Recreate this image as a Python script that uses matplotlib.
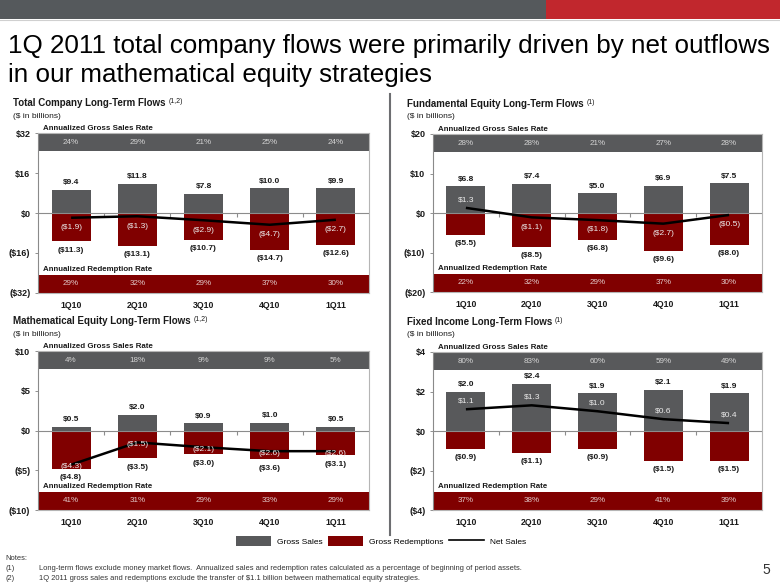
import numpy as np
import matplotlib
matplotlib.use("Agg")
import matplotlib.pyplot as plt
from matplotlib import font_manager
from matplotlib.patches import Rectangle, Patch
from matplotlib.lines import Line2D

# -------------------------------------------------------------------
# Data ($ in billions, rates in %)
# -------------------------------------------------------------------
quarters = ["1Q10", "2Q10", "3Q10", "4Q10", "1Q11"]

total_gross = [9.4, 11.8, 7.8, 10.0, 9.9]
total_redemptions = [-11.3, -13.1, -10.7, -14.7, -12.6]
total_net = [-1.9, -1.3, -2.9, -4.7, -2.7]
total_sales_rate = [24, 29, 21, 25, 24]
total_redemption_rate = [29, 32, 29, 37, 30]

fund_gross = [6.8, 7.4, 5.0, 6.9, 7.5]
fund_redemptions = [-5.5, -8.5, -6.8, -9.6, -8.0]
fund_net = [1.3, -1.1, -1.8, -2.7, -0.5]
fund_sales_rate = [28, 28, 21, 27, 28]
fund_redemption_rate = [22, 32, 29, 37, 30]

math_gross = [0.5, 2.0, 0.9, 1.0, 0.5]
math_redemptions = [-4.8, -3.5, -3.0, -3.6, -3.1]
math_net = [-4.3, -1.5, -2.1, -2.6, -2.6]
math_sales_rate = [4, 18, 9, 9, 5]
math_redemption_rate = [41, 31, 29, 33, 29]

fixed_gross = [2.0, 2.4, 1.9, 2.1, 1.9]
fixed_redemptions = [-0.9, -1.1, -0.9, -1.5, -1.5]
fixed_net = [1.1, 1.3, 1.0, 0.6, 0.4]
fixed_sales_rate = [80, 83, 60, 59, 49]
fixed_redemption_rate = [37, 38, 29, 41, 39]

title_lines = [
    "1Q 2011 total company flows were primarily driven by net outflows",
    "in our mathematical equity strategies",
]
notes = [
    ("(1)", "Long-term flows exclude money market flows.  Annualized sales and redemption rates "
            "calculated as a percentage of beginning of period assets."),
    ("(2)", "1Q 2011 gross sales and redemptions exclude the transfer of $1.1 billion between "
            "mathematical equity strategies."),
]

# -------------------------------------------------------------------
# Style
# -------------------------------------------------------------------
W, H, DPI = 780, 585, 100
names = {f.name for f in font_manager.fontManager.ttflist}
ARIAL = "Liberation Sans" if "Liberation Sans" in names else "DejaVu Sans"
NARROW = "Liberation Sans Narrow" if "Liberation Sans Narrow" in names else ARIAL

GRAY = "#58595b"
RED = "#800000"
LINE_GRAY = "#8c8c8c"
INK = "#1a1a1a"


def fx(x):
    return x / W


def fy(y):
    return 1 - y / H


def money(v):
    return f"${v:.1f}" if v >= 0 else f"(${abs(v):.1f})"


def money_tick(v):
    return f"${v:.0f}" if v >= 0 else f"(${abs(v):.0f})"


def draw_panel(ax, gross, redemptions, net, sales_rate, red_rate, lim, net_mode):
    x = np.arange(len(quarters))
    lo, hi = -lim, lim
    band = 0.115 * (hi - lo)

    ax.set_xlim(-0.5, len(quarters) - 0.5)
    ax.set_ylim(lo, hi)

    ax.axhspan(hi - band, hi, color=GRAY, lw=0, zorder=1)
    ax.axhspan(lo, lo + band, color=RED, lw=0, zorder=1)

    ax.bar(x, gross, width=0.59, color=GRAY, zorder=2)
    ax.bar(x, redemptions, width=0.59, color=RED, zorder=2)
    ax.axhline(0, color=LINE_GRAY, lw=0.8, zorder=3)
    ax.plot(x[:-1] + 0.5, np.zeros(len(x) - 1), ls="none", marker=3, ms=3,
            mew=0.8, color=LINE_GRAY, zorder=3)
    ax.plot(x, net, color="black", lw=1.8, zorder=4, solid_capstyle="butt")

    for i in x:
        ax.text(i, hi - band / 2, f"{sales_rate[i]}%", ha="center", va="center",
                family=NARROW, fontsize=5.8, color="#d4d4d4", zorder=5)
        ax.text(i, lo + band / 2, f"{red_rate[i]}%", ha="center", va="center",
                family=NARROW, fontsize=5.8, color="#e2c9c9", zorder=5)
        ax.annotate(money(gross[i]), (i, gross[i]), xytext=(0, 2.5),
                    textcoords="offset points", ha="center", va="bottom",
                    family=ARIAL, fontsize=6, fontweight="bold", color=INK)
        ax.annotate(money(redemptions[i]), (i, redemptions[i]), xytext=(0, -4),
                    textcoords="offset points", ha="center", va="top",
                    family=ARIAL, fontsize=6, fontweight="bold", color=INK)
        if net_mode == "center":
            off, va = -1.5, "center"
        elif net[i] >= 0:
            off, va = 3.5, "bottom"
        else:
            off, va = -4.5, "top"
        ax.annotate(money(net[i]), (i, net[i]), xytext=(0, off),
                    textcoords="offset points", ha="center", va=va,
                    family=ARIAL, fontsize=6, color="#ececec", zorder=6)

    ax.text(0.015, 1.008, "Annualized Gross Sales Rate", transform=ax.transAxes,
            ha="left", va="bottom", family=NARROW, fontsize=5.7, fontweight="bold",
            color=INK)
    ax.text(0.015, 0.115 + 0.012, "Annualized Redemption Rate", transform=ax.transAxes,
            ha="left", va="bottom", family=NARROW, fontsize=5.7, fontweight="bold",
            color=INK, zorder=5)

    ticks = np.linspace(lo, hi, 5)
    ax.set_yticks(ticks)
    ax.set_yticklabels([money_tick(t) for t in ticks], family=ARIAL,
                       fontsize=6.5, fontweight="bold", color=INK)
    ax.set_xticks(x)
    ax.set_xticklabels(quarters, family=NARROW, fontsize=6.3, fontweight="bold", color=INK)
    ax.tick_params(axis="x", length=0, pad=6)
    ax.tick_params(axis="y", length=2.5, width=0.6, color="#7f7f7f", pad=3)
    for s in ax.spines.values():
        s.set_color("#b5b5b5")
        s.set_linewidth(0.8)
    ax.spines["left"].set_color("#8a8a8a")


# -------------------------------------------------------------------
# Figure
# -------------------------------------------------------------------
fig = plt.figure(figsize=(W / DPI, H / DPI), dpi=DPI)
renderer = fig.canvas.get_renderer()

# header band
fig.add_artist(Rectangle((0, fy(19)), fx(546), 19 / H, transform=fig.transFigure,
                         color="#55595c", lw=0))
fig.add_artist(Rectangle((fx(546), fy(19)), 1 - fx(546), 19 / H,
                         transform=fig.transFigure, color="#c1272d", lw=0))
fig.add_artist(Line2D([0, 1], [fy(20), fy(20)], transform=fig.transFigure,
                      color="#d0d0d0", lw=0.8))

# main title, sized to span the slide width
t1 = fig.text(fx(8), fy(53), title_lines[0], family=NARROW, fontsize=20, va="baseline")
size = 20 * 762 / t1.get_window_extent(renderer).width
t1.set_fontsize(size)
fig.text(fx(8), fy(82), title_lines[1], family=NARROW, fontsize=size, va="baseline")

panels = [
    # (title, notes, axes rect in px, data, limit, net label mode)
    ("Total Company Long-Term Flows", "(1,2)", (38, 133, 369, 293),
     (total_gross, total_redemptions, total_net, total_sales_rate, total_redemption_rate),
     32, "side"),
    ("Fundamental Equity Long-Term Flows", "(1)", (433, 134, 762, 292),
     (fund_gross, fund_redemptions, fund_net, fund_sales_rate, fund_redemption_rate),
     20, "side"),
    ("Mathematical Equity Long-Term Flows", "(1,2)", (38, 351, 369, 510),
     (math_gross, math_redemptions, math_net, math_sales_rate, math_redemption_rate),
     10, "center"),
    ("Fixed Income Long-Term Flows", "(1)", (433, 352, 762, 510),
     (fixed_gross, fixed_redemptions, fixed_net, fixed_sales_rate, fixed_redemption_rate),
     4, "side"),
]

# panel title size fitted on the first panel title
probe = fig.text(0, 0, panels[0][0], family=NARROW, fontsize=9, fontweight="bold")
ptsize = 9 * 154 / probe.get_window_extent(renderer).width
probe.remove()

for title, sup, (l, t, r, b), data, lim, mode in panels:
    ax = fig.add_axes([fx(l), fy(b), (r - l) / W, (b - t) / H])
    draw_panel(ax, *data, lim, mode)
    tx = 13 if l < 100 else 407
    tt = fig.text(fx(tx), fy(t - 30), title, family=NARROW, fontsize=ptsize,
                  fontweight="bold", va="center", color=INK)
    ax.annotate(sup, xy=(1, 1), xycoords=tt, xytext=(2, 0), textcoords="offset points",
                ha="left", va="top", family=ARIAL, fontsize=5, color=INK,
                annotation_clip=False)
    fig.text(fx(tx), fy(t - 17), "($ in billions)", family=NARROW, fontsize=6,
             va="center", color=INK)

# separator between columns
fig.add_artist(Line2D([fx(389.5)] * 2, [fy(94), fy(535)], transform=fig.transFigure,
                      color="#6d6e71", lw=1.5))

# legend
handles = [Patch(facecolor=GRAY), Patch(facecolor=RED), Line2D([], [], color="black", lw=1.2)]
fig.legend(handles, ["Gross Sales", "Gross Redemptions", "Net Sales"], loc="center",
           bbox_to_anchor=(fx(381), fy(541)), ncol=3, frameon=False,
           prop={"family": NARROW, "size": 6}, handlelength=4.2, handleheight=1.45,
           handletextpad=0.7, columnspacing=0.7)

# notes
fig.text(fx(5), fy(558), "Notes:", family=ARIAL, fontsize=5.4, va="center", color="#333333")
for k, (num, txt) in enumerate(notes):
    y = 568 + 10 * k
    fig.text(fx(5), fy(y), num, family=ARIAL, fontsize=5.4, va="center", color="#333333")
    fig.text(fx(39), fy(y), txt, family=ARIAL, fontsize=5.4, va="center", color="#333333")

fig.text(fx(762), fy(570), "5", family=ARIAL, fontsize=10, va="center", color="#333333")

fig.savefig("out.png", dpi=DPI)
